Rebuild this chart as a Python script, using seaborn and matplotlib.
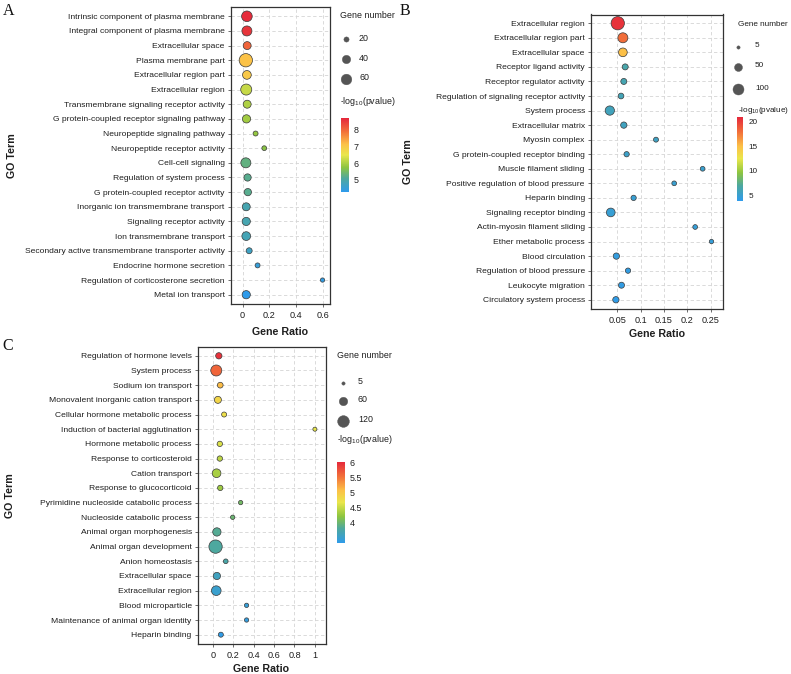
import numpy as np
import pandas as pd
import matplotlib
matplotlib.use("Agg")
import matplotlib.pyplot as plt
import seaborn as sns
from matplotlib.colors import LinearSegmentedColormap, Normalize
from matplotlib.colorbar import ColorbarBase

# ---------------- data ----------------
a_terms = ["Intrinsic component of plasma membrane", "Integral component of plasma membrane",
           "Extracellular space", "Plasma membrane part", "Extracellular region part",
           "Extracellular region", "Transmembrane signaling receptor activity",
           "G protein-coupled receptor signaling pathway", "Neuropeptide signaling pathway",
           "Neuropeptide receptor activity", "Cell-cell signaling", "Regulation of system process",
           "G protein-coupled receptor activity", "Inorganic ion transmembrane transport",
           "Signaling receptor activity", "Ion transmembrane transport",
           "Secondary active transmembrane transporter activity", "Endocrine hormone secretion",
           "Regulation of corticosterone secretion", "Metal ion transport"]
a_ratio = [0.033, 0.033, 0.035, 0.025, 0.033, 0.028, 0.035, 0.030, 0.098, 0.163,
           0.025, 0.038, 0.040, 0.028, 0.028, 0.028, 0.050, 0.113, 0.600, 0.028]
a_count = [60, 54, 37, 90, 43, 64, 37, 39, 19, 18, 54, 32, 32, 37, 39, 43, 24, 19, 16, 39]
a_logp = [8.6, 8.5, 8.0, 7.1, 7.0, 6.2, 6.0, 5.9, 5.8, 5.7,
          5.3, 5.2, 5.2, 4.9, 4.9, 4.85, 4.7, 4.5, 4.4, 4.3]

b_terms = ["Extracellular region", "Extracellular region part", "Extracellular space",
           "Receptor ligand activity", "Receptor regulator activity",
           "Regulation of signaling receptor activity", "System process", "Extracellular matrix",
           "Myosin complex", "G protein-coupled receptor binding", "Muscle filament sliding",
           "Positive regulation of blood pressure", "Heparin binding", "Signaling receptor binding",
           "Actin-myosin filament sliding", "Ether metabolic process", "Blood circulation",
           "Regulation of blood pressure", "Leukocyte migration", "Circulatory system process"]
b_ratio = [0.051, 0.062, 0.062, 0.067, 0.064, 0.058, 0.034, 0.064, 0.133, 0.070,
           0.233, 0.172, 0.085, 0.036, 0.217, 0.252, 0.048, 0.073, 0.059, 0.047]
b_count = [148, 82, 61, 27, 27, 24, 70, 30, 17, 20, 15, 15, 20, 61, 15, 12, 30, 20, 27, 30]
b_logp = [20.5, 18.0, 15.0, 6.5, 6.2, 6.0, 5.8, 5.7, 5.5, 5.3,
          5.1, 5.0, 4.9, 4.8, 4.7, 4.6, 4.4, 4.3, 4.2, 4.1]

c_terms = ["Regulation of hormone levels", "System process", "Sodium ion transport",
           "Monovalent inorganic cation transport", "Cellular hormone metabolic process",
           "Induction of bacterial agglutination", "Hormone metabolic process",
           "Response to corticosteroid", "Cation transport", "Response to glucocorticoid",
           "Pyrimidine nucleoside catabolic process", "Nucleoside catabolic process",
           "Animal organ morphogenesis", "Animal organ development", "Anion homeostasis",
           "Extracellular space", "Extracellular region", "Blood microparticle",
           "Maintenance of animal organ identity", "Heparin binding"]
c_ratio = [0.058, 0.033, 0.072, 0.049, 0.110, 1.000, 0.068, 0.068, 0.036, 0.072,
           0.272, 0.194, 0.039, 0.026, 0.126, 0.039, 0.033, 0.330, 0.330, 0.078]
c_count = [31, 105, 25, 40, 18, 10, 21, 21, 64, 21, 12, 12, 58, 156, 15, 43, 80, 12, 12, 18]
c_logp = [5.95, 5.6, 5.1, 4.85, 4.75, 4.65, 4.6, 4.45, 4.35, 4.3,
          4.05, 4.0, 3.85, 3.8, 3.75, 3.6, 3.5, 3.45, 3.4, 3.35]

a_xticks = [0, 0.2, 0.4, 0.6]
a_xticklabels = ["0", "0.2", "0.4", "0.6"]
b_xticks = [0.05, 0.1, 0.15, 0.2, 0.25]
b_xticklabels = ["0.05", "0.1", "0.15", "0.2", "0.25"]
c_xticks = [0, 0.2, 0.4, 0.6, 0.8, 1.0]
c_xticklabels = ["0", "0.2", "0.4", "0.6", "0.8", "1"]

a_size_breaks = [20, 40, 60]
b_size_breaks = [5, 50, 100]
c_size_breaks = [5, 60, 120]
a_cbar_ticks = [5, 6, 7, 8]
b_cbar_ticks = [5, 10, 15, 20]
c_cbar_ticks = [4, 4.5, 5, 5.5, 6]
c_cbar_ticklabels = ["4", "4.5", "5", "5.5", "6"]

# ---------------- style ----------------
W, H = 791, 674
sns.set_theme(style="white")
plt.rcParams["font.family"] = ["Liberation Sans", "DejaVu Sans"]
plt.rcParams["mathtext.fontset"] = "custom"
plt.rcParams["mathtext.rm"] = "Liberation Sans"
plt.rcParams["mathtext.it"] = "Liberation Sans:italic"

cmap = LinearSegmentedColormap.from_list(
    "go", [(0.00, "#2F9BEA"), (0.18, "#4EA89E"), (0.33, "#8DC540"), (0.50, "#E9E64B"),
           (0.65, "#FCC047"), (0.82, "#F2703A"), (1.00, "#E5283B")])

TXT = "#1E1E1E"
FS = 6.1

fig = plt.figure(figsize=(W / 100, H / 100), dpi=100)
fig.patch.set_facecolor("white")


def px_axes(l, t, r, b, **kw):
    return fig.add_axes([l / W, 1 - b / H, (r - l) / W, (b - t) / H], **kw)


overlay = px_axes(0, 0, W, H)
overlay.set_xlim(0, W)
overlay.set_ylim(H, 0)
overlay.axis("off")
overlay.set_zorder(10)


def area_fn(a, b):
    # marker area in pt^2 for a gene count (diameter^2 in px -> pt^2)
    return lambda c: 0.5184 * (a + b * c)


def panel(box, terms, ratio, count, logp, xlim, xticks, xticklabels, hue_lim, sfn,
          letter, letter_xy, goterm_x, xlabelpad, leg, legfs=FS):
    ax = px_axes(*box)
    df = pd.DataFrame({"term": terms, "ratio": ratio, "count": count, "logp": logp})
    n0, n1 = 10, 200
    sns.scatterplot(data=df, x="ratio", y="term", hue="logp", size="count",
                    palette=cmap, hue_norm=Normalize(*hue_lim),
                    sizes=(sfn(n0), sfn(n1)), size_norm=(n0, n1),
                    edgecolor="#3A3A3A", linewidth=0.5, alpha=1, legend=False,
                    ax=ax, zorder=3)
    ax.set_xlim(*xlim)
    ax.set_ylim(len(terms) - 0.4, -0.6)
    ax.set_xticks(xticks)
    ax.set_xticklabels(xticklabels)
    ax.set_axisbelow(True)
    ax.grid(True, linestyle=(0, (4, 3)), color="#D4D4D4", linewidth=0.6)
    for s in ax.spines.values():
        s.set_color("#333333")
        s.set_linewidth(0.9)
    ax.tick_params(axis="both", length=2.2, width=0.6, color="#555555",
                   labelsize=FS, labelcolor=TXT, pad=2, left=True, bottom=True)
    ax.tick_params(axis="x", labelsize=FS + 0.5, pad=3)
    ax.set_ylabel("")
    ax.set_xlabel("Gene Ratio", fontsize=7.7, fontweight="bold", color=TXT,
                  labelpad=xlabelpad)
    l, t, r, b = box
    overlay.text(goterm_x, (t + b) / 2, "GO Term", rotation=90, ha="center", va="center",
                 fontsize=7.7, fontweight="bold", color=TXT)
    overlay.text(letter_xy[0], letter_xy[1], letter, ha="left", va="baseline",
                 fontsize=11.5, family=["Liberation Serif"], color="#111111")

    # legend: gene number
    gx, gy, keyx, keyys, labx, cty, cbox, breaks, cticks, ctlabels = leg
    overlay.text(gx, gy, "Gene number", ha="left", va="center", fontsize=legfs, color=TXT)
    for bk, ky in zip(breaks, keyys):
        overlay.scatter([keyx], [ky], s=sfn(bk), color="#555555", edgecolor="#555555",
                        linewidth=0.3)
        overlay.text(labx, ky - 1, str(bk), ha="left", va="center", fontsize=legfs, color=TXT)
    overlay.text(gx, cty, r"-log$_{10}$(pvalue)", ha="left", va="center", fontsize=legfs,
                 color=TXT)
    cax = px_axes(*cbox)
    cb = ColorbarBase(cax, cmap=cmap, norm=Normalize(*hue_lim), ticks=cticks)
    cb.outline.set_visible(False)
    cb.set_ticklabels(ctlabels if ctlabels else [str(v) for v in cticks])
    cax.tick_params(length=2, width=0.8, color="white", labelsize=legfs, labelcolor=TXT,
                    pad=1.5)
    return ax


panel((230.5, 7.5, 330, 303.5), a_terms, a_ratio, a_count, a_logp,
      (-0.09, 0.656), a_xticks, a_xticklabels, (4.3, 8.65), area_fn(-16, 2.15),
      "A", (2.5, 15), 12, 5.5,
      (340, 16, 345.5, [39.3, 59.3, 78.5], 359, 101.7, (341, 118.3, 349, 191.7),
       a_size_breaks, a_cbar_ticks, None), legfs=6.4)

panel((590.7, 14.5, 722.5, 308.5), b_terms, b_ratio, b_count, b_logp,
      (-0.007, 0.2756), b_xticks, b_xticklabels, (3.9, 21), area_fn(5, 1.16),
      "B", (400, 15), 408, 3,
      (738, 24, 738.3, [46.7, 66.7, 89.3], 755, 110, (736.7, 117, 743.3, 200.5),
       b_size_breaks, b_cbar_ticks, None), legfs=5.9)

panel((197.5, 347, 325.5, 643.5), c_terms, c_ratio, c_count, c_logp,
      (-0.151, 1.104), c_xticks, c_xticklabels, (3.32, 6.02), area_fn(5.5, 1.1),
      "C", (2, 350), 10, 3,
      (337.3, 355, 342.7, [382.7, 400.7, 421], 358, 440, (337.3, 461.7, 345, 543.3),
       c_size_breaks, c_cbar_ticks, c_cbar_ticklabels), legfs=6.4)

fig.savefig("out.png", dpi=100, facecolor="white")
